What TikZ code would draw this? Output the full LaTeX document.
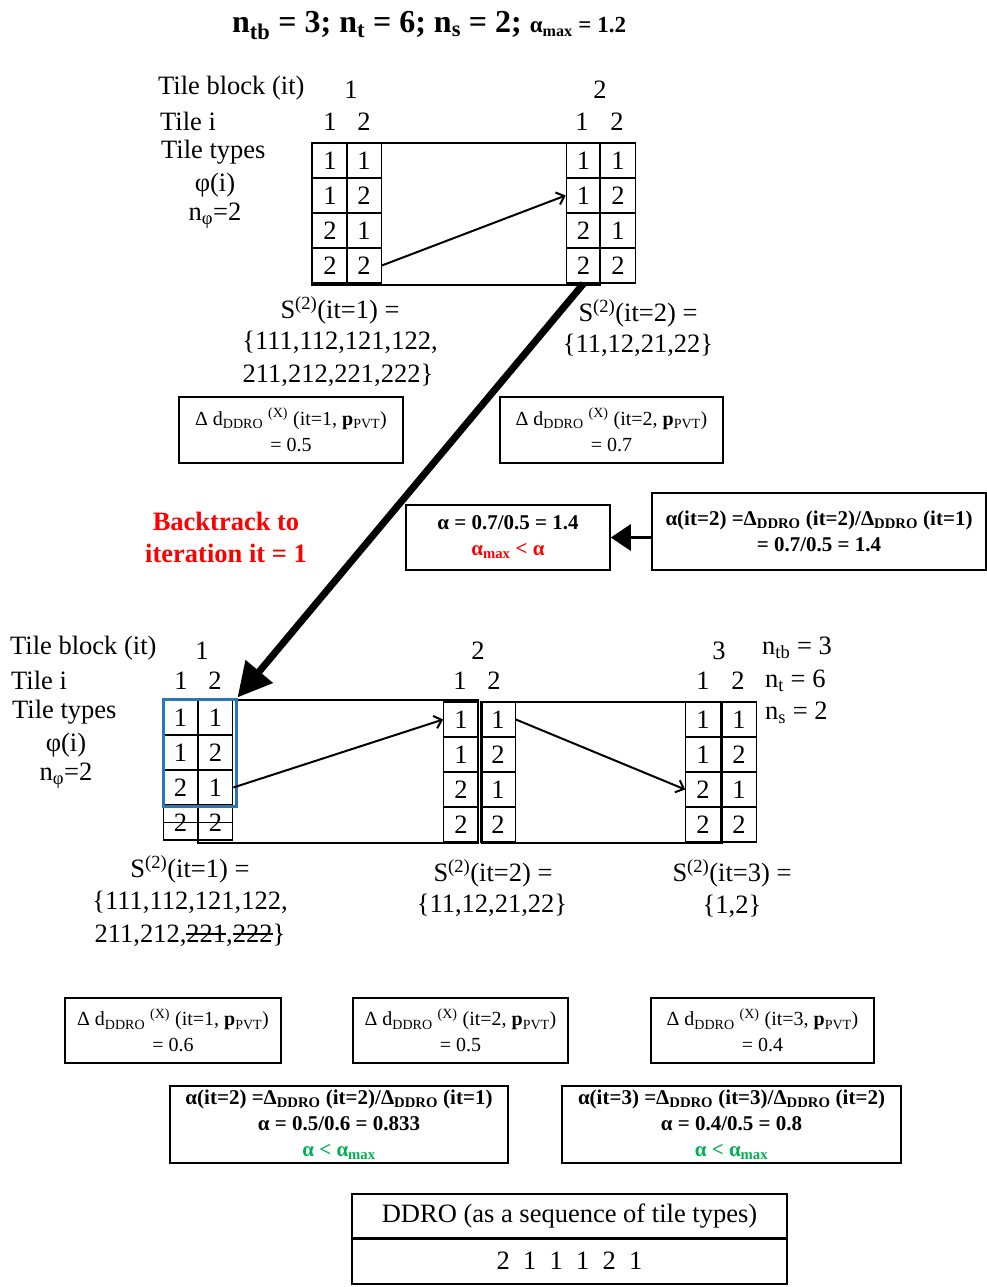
\documentclass[tikz,border=0pt]{standalone}
\usepackage{fontspec}
\setmainfont{Liberation Serif}
\usetikzlibrary{arrows.meta}
\definecolor{tileblue}{RGB}{46,117,182}
\definecolor{warnred}{RGB}{255,0,0}
\definecolor{okgreen}{RGB}{0,176,80}
\newcommand\mainsz{\fontsize{26.5}{30}\selectfont}
\newcommand\boxsz{\fontsize{20}{26}\selectfont}
\newcommand\ratiosz{\fontsize{21}{26}\selectfont\bfseries}
\newlength\strklen
\newcommand\strike[1]{\settowidth\strklen{#1}\rlap{\rule[0.28em]{\strklen}{0.06em}}#1}
% one column of four tile cells: name, x centre, top edge, values
\newcommand\tilecol[4]{%
  \foreach \v [count=\r] in {#4}
    \node[cell] (#1-\r) at (#2,{#3+\r*35-17.5}) {\v};}
\tikzset{
  txt/.style={font=\mainsz, inner sep=0pt},
  cell/.style={draw, line width=1.2pt, minimum width=34.5pt, minimum height=35pt,
               inner sep=0pt, font=\mainsz},
  blockframe/.style={draw, line width=2.6pt},
  infobox/.style={draw, line width=1.5pt, inner sep=0pt, align=center, font=\boxsz},
  ratiobox/.style={draw, line width=1.5pt, inner sep=0pt, align=center, font=\ratiosz},
  link/.style={line width=2pt, -{Straight Barb[length=7pt,width=13pt]}},
  tablecell/.style={draw, line width=1.8pt, minimum width=435pt, inner sep=0pt, font=\mainsz},
}
\begin{document}
\begin{tikzpicture}[x=1pt,y=-1pt]
\useasboundingbox (0,0) rectangle (987,1287);

% heading
\node[anchor=base west, inner sep=0pt, font=\fontsize{32}{36}\selectfont\bfseries] (head) at (232,33)
  {n\textsubscript{tb} = 3; n\textsubscript{t} = 6; n\textsubscript{s} = 2; {\fontsize{23}{26}\selectfont α\textsubscript{max} = 1.2}};

% ---------- first attempt: two tile blocks ----------
\node[txt, anchor=west] (tbA) at (158,88) {Tile block (it)};
\node[txt, anchor=west] (tiA) at (160,121) {Tile i};
\node[txt, anchor=west] (ttA) at (161,152) {Tile types};
\node[txt] (phA) at (215,185) {φ(i)};
\node[txt] (npA) at (215,216) {n\textsubscript{φ}=2};
\node[txt] (itA1) at (351,90) {1};
\node[txt] (itA2) at (600,90) {2};
\node[txt] (iA1) at (330,122) {1};
\node[txt] (iA2) at (364,122) {2};
\node[txt] (iA3) at (582,122) {1};
\node[txt] (iA4) at (617,122) {2};

\tilecol{t1a}{330}{143}{1,1,2,2}
\tilecol{t1b}{364}{143}{1,2,1,2}
\tilecol{t2a}{583.5}{143}{1,1,2,2}
\tilecol{t2b}{618}{143}{1,2,1,2}
\draw[blockframe] (312,143) rectangle (600,285);
\draw[link] (t1b-4.east) -- (t2a-2.west);

\node[txt] (sA1) at (340,310) {S\textsuperscript{(2)}(it=1) =};
\node[txt] (sA2) at (340,342) {\{111,112,121,122,};
\node[txt] (sA3) at (338,375) {211,212,221,222\}};
\node[txt] (sB1) at (638,313) {S\textsuperscript{(2)}(it=2) =};
\node[txt] (sB2) at (638,345) {\{11,12,21,22\}};

\node[infobox, minimum width=224pt, minimum height=66pt] (dA1) at (291,430)
  {Δ d\textsubscript{DDRO} \textsuperscript{(X)} (it=1, \textbf{p}\textsubscript{PVT})\\ = 0.5};
\node[infobox, minimum width=223pt, minimum height=66pt] (dA2) at (611.5,430)
  {Δ d\textsubscript{DDRO} \textsuperscript{(X)} (it=2, \textbf{p}\textsubscript{PVT})\\ = 0.7};

\node[txt, font=\mainsz\bfseries, text=warnred, align=center] (back1) at (226,521) {Backtrack to};
\node[txt, font=\mainsz\bfseries, text=warnred, align=center] (back2) at (226,553) {iteration it = 1};

\node[ratiobox, minimum width=204pt, minimum height=65pt] (rA) at (508,537.5)
  {α = 0.7/0.5 = 1.4\\ {\color{warnred}α\textsubscript{max} < α}};
\node[ratiobox, minimum width=334pt, minimum height=77pt] (rB) at (819,531.5)
  {α(it=2) =Δ\textsubscript{DDRO} (it=2)/Δ\textsubscript{DDRO} (it=1)\\ = 0.7/0.5 = 1.4};
\draw[line width=3pt, -{Triangle[length=20pt,width=26pt]}] (rB.west |- rA.east) -- (rA.east);

% ---------- second attempt: three tile blocks ----------
\node[txt, anchor=west] (tbB) at (10,648) {Tile block (it)};
\node[txt, anchor=west] (tiB) at (11,680) {Tile i};
\node[txt, anchor=west] (ttB) at (12,712) {Tile types};
\node[txt] (phB) at (66,745) {φ(i)};
\node[txt] (npB) at (66,776) {n\textsubscript{φ}=2};
\node[txt] (itB1) at (202,651) {1};
\node[txt] (itB2) at (478,651) {2};
\node[txt] (itB3) at (719,651) {3};
\node[txt] (iB1) at (181,681) {1};
\node[txt] (iB2) at (215,681) {2};
\node[txt] (iB3) at (460,681) {1};
\node[txt] (iB4) at (494,681) {2};
\node[txt] (iB5) at (703,681) {1};
\node[txt] (iB6) at (738,681) {2};
\node[txt, anchor=west] (ntb) at (762,648) {n\textsubscript{tb} = 3};
\node[txt, anchor=west] (nt) at (765,681) {n\textsubscript{t} = 6};
\node[txt, anchor=west] (ns) at (765,713) {n\textsubscript{s} = 2};

\tilecol{b1a}{180.5}{700}{1,1,2,2}
\tilecol{b1b}{215.5}{700}{1,2,1,2}
\tilecol{b2a}{461}{702}{1,1,2,2}
\tilecol{b2b}{498}{702}{1,2,1,2}
\tilecol{b3a}{703}{702}{1,1,2,2}
\tilecol{b3b}{739}{702}{1,2,1,2}
\draw[line width=1.2pt] (b1a-4.west) -- (b1b-4.east);
\draw[blockframe] (198,700) rectangle (478,843);
\draw[blockframe] (482,702) rectangle (722,843);
\node[draw=tileblue, line width=3pt, minimum width=73pt, minimum height=107pt, inner sep=0pt]
  (keep) at (199.5,752.5) {};
\draw[link] (b1b-3.east) -- (b2a-1.west);
\draw[link] (b2b-1.east) -- (b3a-3.west);

\draw[line width=7pt, -{Triangle[length=34pt,width=34pt]}] (t2a-4.south) -- (keep.north east);

\node[txt] (sC1) at (190,869) {S\textsuperscript{(2)}(it=1) =};
\node[txt] (sC2) at (190,902) {\{111,112,121,122,};
\node[txt] (sC3) at (190,935) {211,212,\strike{221},\strike{222}\}};
\node[txt] (sD1) at (493,873) {S\textsuperscript{(2)}(it=2) =};
\node[txt] (sD2) at (492,905) {\{11,12,21,22\}};
\node[txt] (sE1) at (732,873) {S\textsuperscript{(2)}(it=3) =};
\node[txt] (sE2) at (732,906) {\{1,2\}};

\node[infobox, minimum width=216pt, minimum height=65pt] (dB1) at (173,1030.5)
  {Δ d\textsubscript{DDRO} \textsuperscript{(X)} (it=1, \textbf{p}\textsubscript{PVT})\\ = 0.6};
\node[infobox, minimum width=215pt, minimum height=65pt] (dB2) at (460.5,1030.5)
  {Δ d\textsubscript{DDRO} \textsuperscript{(X)} (it=2, \textbf{p}\textsubscript{PVT})\\ = 0.5};
\node[infobox, minimum width=223pt, minimum height=65pt] (dB3) at (762.5,1030.5)
  {Δ d\textsubscript{DDRO} \textsuperscript{(X)} (it=3, \textbf{p}\textsubscript{PVT})\\ = 0.4};

\node[ratiobox, minimum width=338pt, minimum height=77pt] (rC) at (339,1124.5)
  {α(it=2) =Δ\textsubscript{DDRO} (it=2)/Δ\textsubscript{DDRO} (it=1)\\ α = 0.5/0.6 = 0.833\\
   {\color{okgreen}α < α\textsubscript{max}}};
\node[ratiobox, minimum width=339pt, minimum height=77pt] (rD) at (731.5,1124.5)
  {α(it=3) =Δ\textsubscript{DDRO} (it=3)/Δ\textsubscript{DDRO} (it=2)\\ α = 0.4/0.5 = 0.8\\
   {\color{okgreen}α < α\textsubscript{max}}};

% resulting sequence
\node[tablecell, minimum height=45pt] (seqhead) at (569.5,1216.5) {DDRO (as a sequence of tile types)};
\node[tablecell, minimum height=46pt] (seq) at (569.5,1261) {2~~1~~1~~1~~2~~1};
\end{tikzpicture}
\end{document}
